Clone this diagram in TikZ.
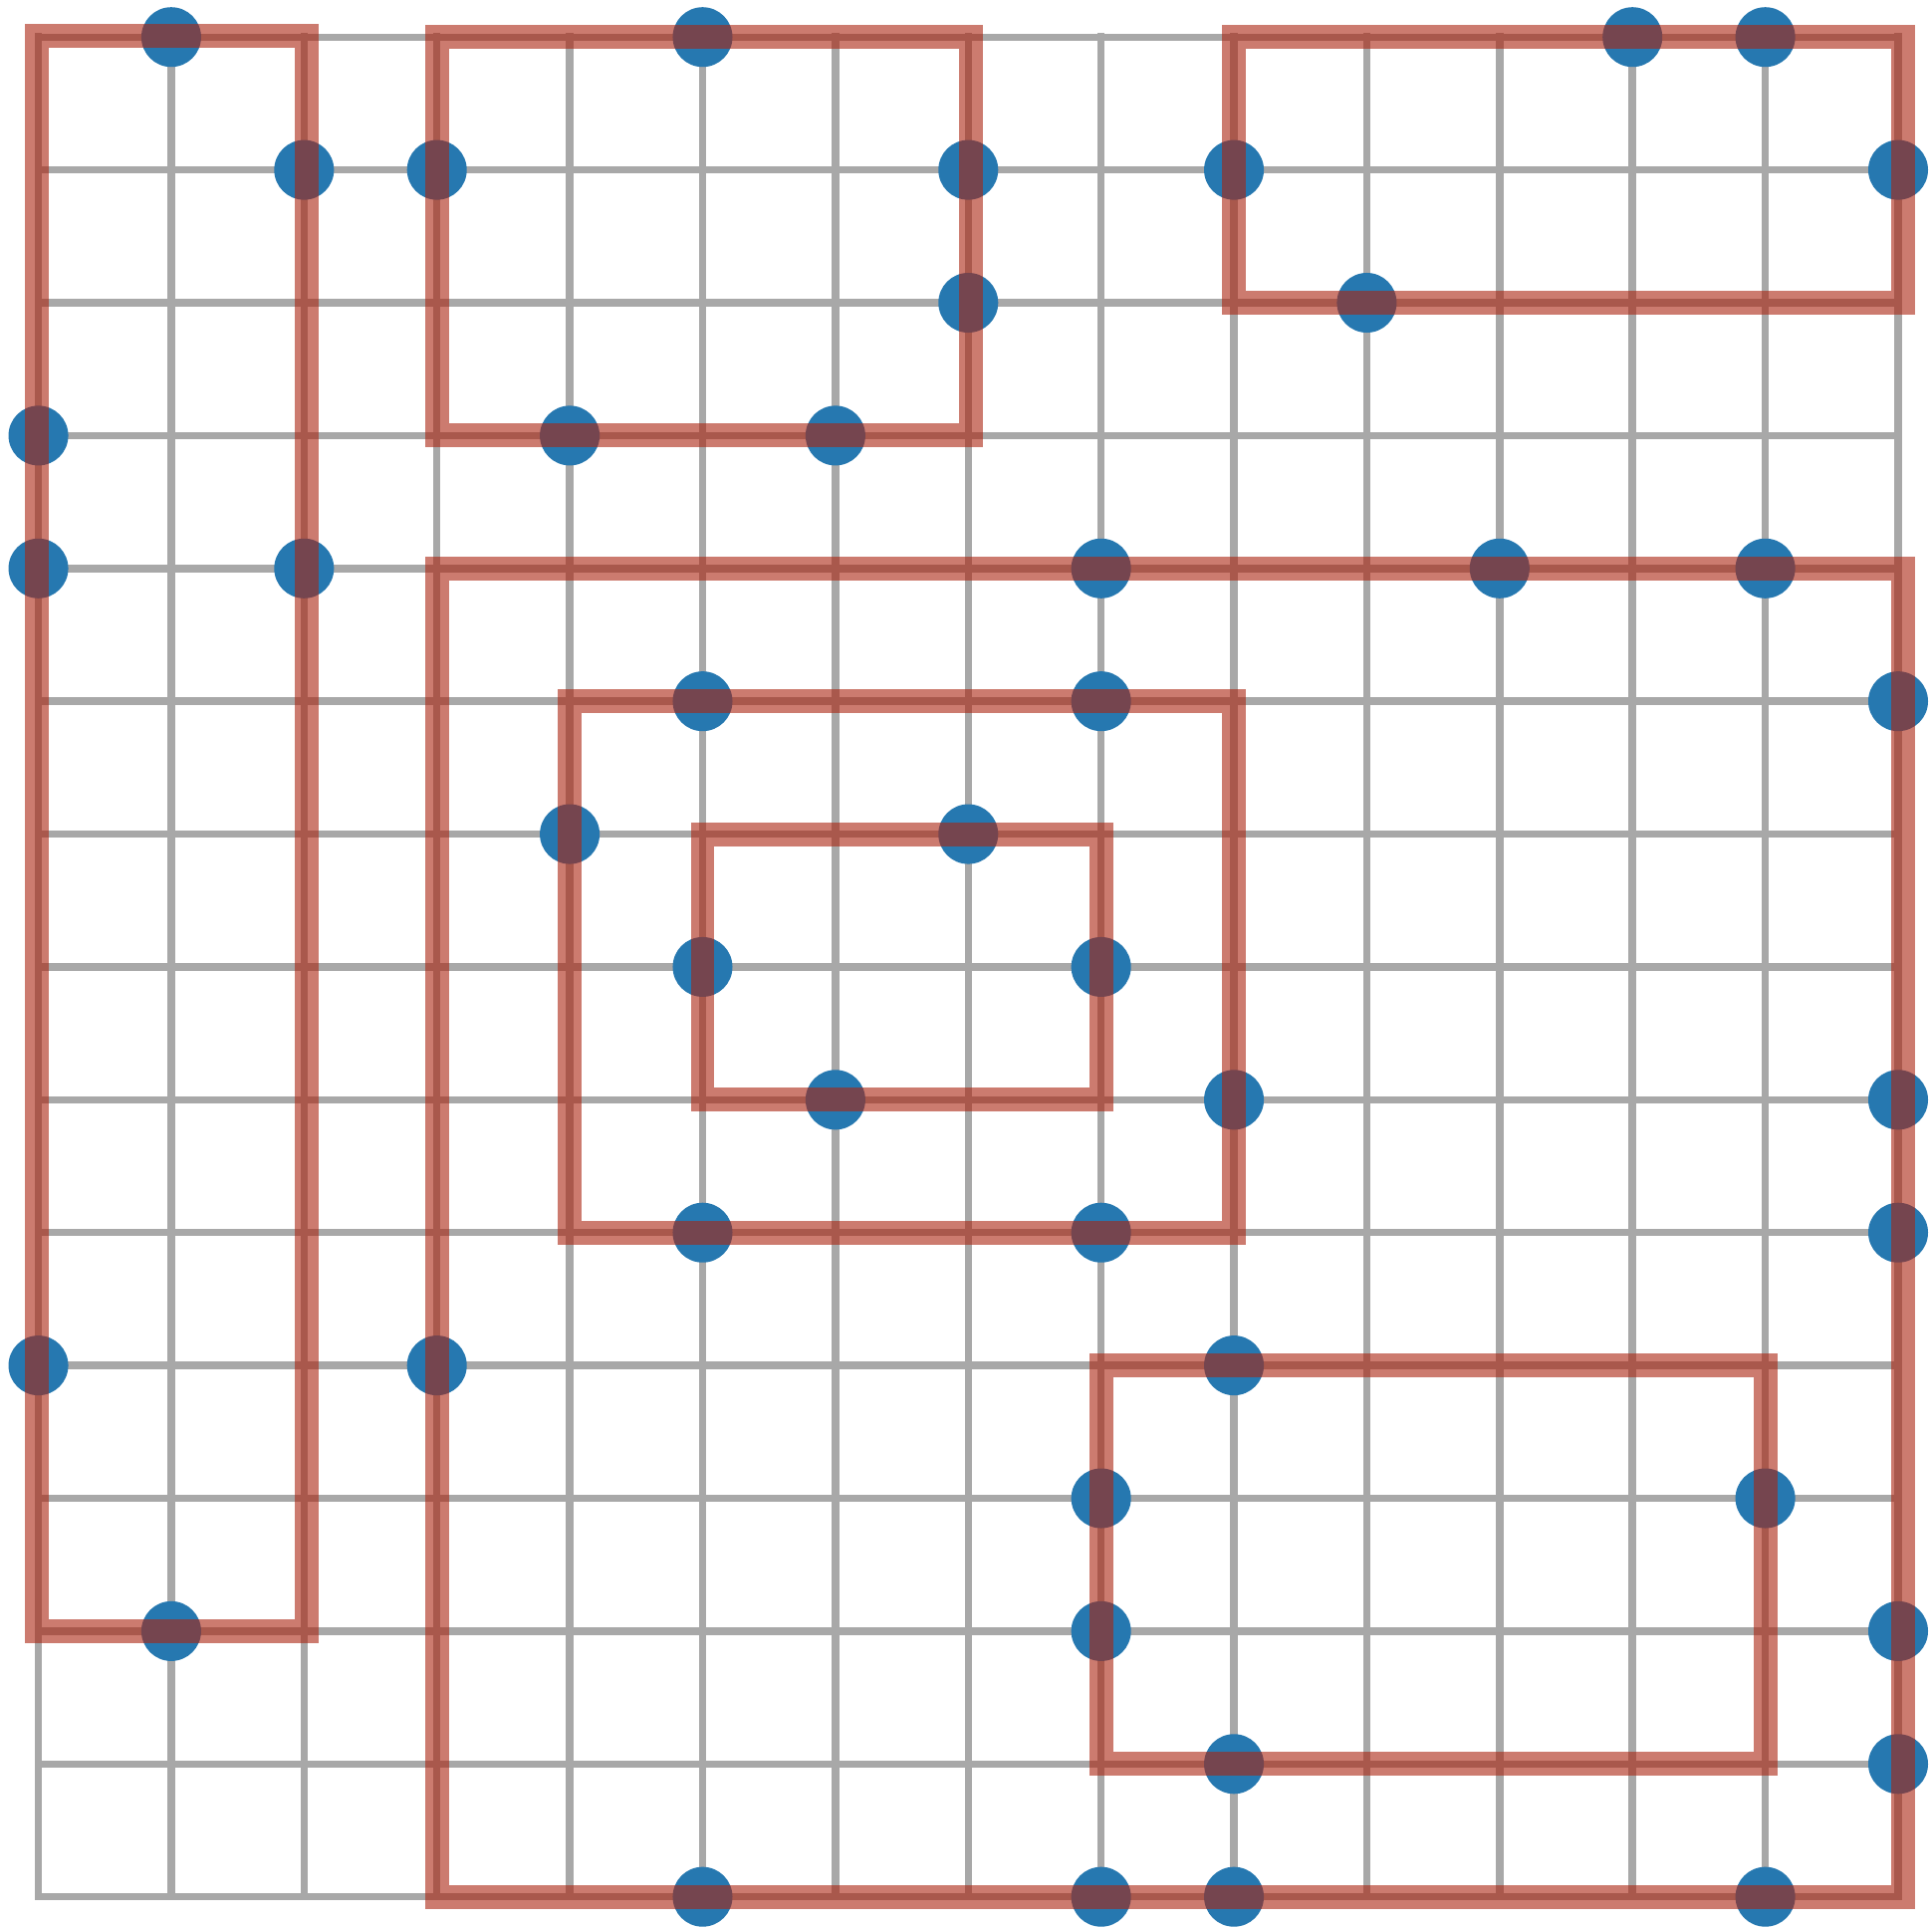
\documentclass[tikz,border=0pt]{standalone}
\definecolor{gridgray}{RGB}{168,168,168}
\definecolor{dotblue}{RGB}{38,120,176}
\definecolor{bandred}{RGB}{170,35,15}
\tikzset{
  gridline/.style={draw=gridgray, line width=1.6pt, line cap=rect},
  dot/.style={circle, fill=dotblue, inner sep=0pt, minimum size=0.45cm, draw=none},
  band/.style={draw=bandred, draw opacity=0.6, line width=5.1pt, line join=miter}
}
\begin{document}
\begin{tikzpicture}[x=1cm,y=-1cm]
\useasboundingbox[fill=white] (-0.289,-0.279) rectangle (14.255,14.242);
% grid
\draw[gridline] (0,0) grid (14,14);
% dots
\foreach \c/\r [count=\i] in {
  1/0,5/0,12/0,13/0,
  2/1,3/1,7/1,9/1,14/1,
  7/2,10/2,
  0/3,4/3,6/3,
  0/4,2/4,8/4,11/4,13/4,
  5/5,8/5,14/5,
  4/6,7/6,
  5/7,8/7,
  6/8,9/8,14/8,
  5/9,8/9,14/9,
  0/10,3/10,9/10,
  8/11,13/11,
  1/12,8/12,14/12,
  9/13,14/13,
  5/14,8/14,9/14,13/14}
  \node[dot] (d\i) at (\c,\r) {};
% rectangles
\draw[band] (-0.01,-0.01) rectangle (2.02,12);
\draw[band] (3,0) rectangle (7.02,3);
\draw[band] (9,0) rectangle (14.04,2);
\draw[band] (3,4) rectangle (14.04,14);
\draw[band] (4,5) rectangle (9,9);
\draw[band] (5,6) rectangle (8,8);
\draw[band] (8,10) rectangle (13,13);
\end{tikzpicture}
\end{document}
